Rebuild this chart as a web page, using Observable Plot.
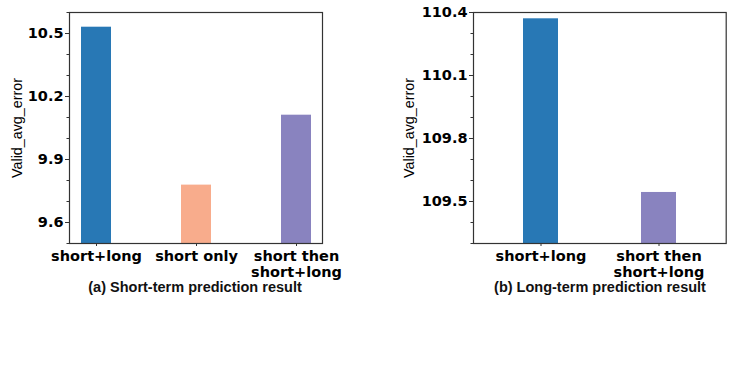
<!DOCTYPE html>
<html>
<head>
<meta charset="utf-8">
<script src="https://cdn.jsdelivr.net/npm/d3@7"></script>
<script src="https://cdn.jsdelivr.net/npm/@observablehq/plot@0.6"></script>
<style>
  html, body { margin: 0; padding: 0; background: #fff; }
  #wrap { position: relative; width: 737px; height: 375px; overflow: hidden; }
  .panel { position: absolute; top: 0; }
  .cap { position: absolute; width: 320px; text-align: center; font-family: "Liberation Sans", Arial, sans-serif; font-weight: bold;
         font-size: 14.5px; color: #111; white-space: nowrap; }
</style>
</head>
<body>
<div id="wrap">
  <div id="left" class="panel" style="left:0px"></div>
  <div id="right" class="panel" style="left:370px"></div>
  <div class="cap" style="left:35px; top:279px">(a) Short-term prediction result</div>
  <div class="cap" style="left:440px; top:279px">(b) Long-term prediction result</div>
</div>
<script>
// ---- data ----
const shortCats = ["short+long", "short only", "short then\nshort+long"];
const shortVals = [10.53, 9.778, 10.111];
const shortColors = ["#2878b5", "#f8ac8c", "#8983bf"];
const shortMajor = [9.6, 9.9, 10.2, 10.5];
const shortMinor = [9.5, 9.7, 9.8, 10.0, 10.1, 10.3, 10.4, 10.6];
const shortDomain = [9.5, 10.6];

const longCats = ["short+long", "short then\nshort+long"];
const longVals = [110.37, 109.543];
const longColors = ["#2878b5", "#8983bf"];
const longMajor = [109.5, 109.8, 110.1, 110.4];
const longMinor = [109.3, 109.4, 109.6, 109.7, 109.9, 110.0, 110.2, 110.3];
const longDomain = [109.3, 110.4];

const yLabel = "Valid_avg_error";

function panel({cats, vals, colors, major, minor, domain, width, marginLeft, marginRight, paddingOuter, labelDx}) {
  const data = cats.map((c, i) => ({cat: c, v: vals[i], color: colors[i]}));
  return Plot.plot({
    width, height: 300,
    marginLeft, marginRight, marginTop: 12, marginBottom: 57,
    style: {fontFamily: "'DejaVu Sans', sans-serif", fontSize: "14.5px", fontWeight: "bold", color: "#000", background: "transparent"},
    x: {type: "band", domain: cats, paddingInner: 0.7, paddingOuter, label: null},
    y: {domain, label: null},
    marks: [
      Plot.rectY(data, {x: "cat", y1: domain[0], y2: "v", fill: "color", clip: true}),
      Plot.axisY({ticks: minor, tickSize: 2.5, tickFormat: () => "", stroke: "#333"}),
      Plot.axisY({ticks: major, tickSize: 4, tickPadding: 2, tickFormat: d => d.toFixed(1), stroke: "#333", fill: "#000"}),
      Plot.axisX({tickSize: 3, tickPadding: 4, lineHeight: 1.05, stroke: "#333", fill: "#000"}),
      Plot.frame({stroke: "#333", strokeWidth: 1.2}),
      Plot.text([yLabel], {frameAnchor: "left", textAnchor: "middle", rotate: -90, dx: labelDx, text: d => d,
        fontFamily: "'Liberation Sans', Arial, sans-serif", fontWeight: "normal", fontSize: 14.3, fill: "#000"})
    ]
  });
}

document.getElementById("left").appendChild(panel({
  cats: shortCats, vals: shortVals, colors: shortColors, major: shortMajor, minor: shortMinor,
  domain: shortDomain, width: 360, marginLeft: 69, marginRight: 38, paddingOuter: 0.115, labelDx: -52
}));
document.getElementById("right").appendChild(panel({
  cats: longCats, vals: longVals, colors: longColors, major: longMajor, minor: longMinor,
  domain: longDomain, width: 367, marginLeft: 103, marginRight: 11.3, paddingOuter: 0.42, labelDx: -64
}));
</script>
</body>
</html>
